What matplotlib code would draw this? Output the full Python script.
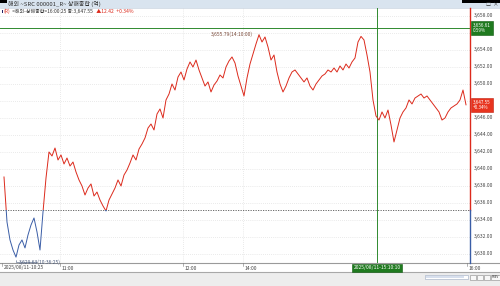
import matplotlib
matplotlib.use("Agg")
import matplotlib.pyplot as plt
import matplotlib.patches as mpatches
import matplotlib.transforms as mtransforms
import numpy as np

plt.rcParams['font.family'] = ['Noto Sans CJK KR', 'DejaVu Sans']

# ---------------- data ----------------
prices = [
    3639.06, 3633.76, 3631.65, 3630.47, 3629.63, 3631.06, 3631.65, 3630.71, 3632.24, 3633.41,
    3634.24, 3632.59, 3630.47, 3634.94, 3638.94, 3642.00, 3641.53, 3642.47, 3641.06, 3641.65,
    3640.59, 3641.29, 3640.35, 3640.82, 3639.65, 3638.71, 3638.00, 3636.94, 3637.76, 3638.24,
    3636.82, 3637.29, 3636.35, 3635.65, 3635.06, 3636.35, 3637.06, 3637.76, 3638.71, 3638.00,
    3639.29, 3639.88, 3640.71, 3641.65, 3641.06, 3642.35, 3642.94, 3643.65, 3644.82, 3645.29,
    3644.59, 3646.47, 3647.06, 3646.00, 3648.12, 3648.82, 3650.00, 3649.29, 3650.82, 3651.41,
    3650.47, 3651.76, 3652.59, 3652.00, 3652.82, 3651.65, 3650.71, 3649.76, 3650.24, 3649.06,
    3649.88, 3650.35, 3651.06, 3650.71, 3652.00, 3652.71, 3653.18, 3652.47, 3650.94, 3649.76,
    3648.59, 3650.71, 3652.35, 3653.53, 3654.71, 3655.79, 3654.94, 3655.53, 3654.35, 3652.82,
    3653.41, 3651.41, 3650.00, 3649.06, 3649.76, 3650.71, 3651.41, 3651.65, 3651.18, 3650.71,
    3650.24, 3650.71, 3649.76, 3649.29, 3650.00, 3650.47, 3650.94, 3651.18, 3651.65, 3651.41,
    3651.88, 3651.41, 3652.12, 3651.65, 3652.35, 3651.88, 3652.59, 3653.06, 3654.94, 3655.60,
    3655.18, 3653.41, 3651.41, 3648.12, 3646.24, 3645.76, 3646.71, 3646.00, 3646.94, 3645.18,
    3643.18, 3644.59, 3646.00, 3646.71, 3647.18, 3648.12, 3647.65, 3648.35, 3648.59, 3648.82,
    3648.35, 3648.59, 3648.12, 3647.65, 3647.18, 3646.71, 3645.76, 3646.00, 3646.71, 3647.18,
    3647.41, 3647.65, 3648.12, 3649.29, 3647.55,
]
prev_close = 3635.13
last_price = 3647.55
change = 12.42
change_pct = 0.34
high_val, high_time, high_idx = 3655.79, "14:10:00", 85
low_val, low_time, low_idx = 3629.63, "10:36:25", 4
cursor_val, cursor_pct = 3656.61, 0.59
cursor_label = "2025/08/11-15:10:10"
cursor_idx = 124.3
tick_labels = ["2025/08/11-10:25", "11:00", "12:00", "14:00", "16:00"]
tick_pos = [-0.7, 18.7, 59.7, 79.7, 154.3]
y_ticks = list(range(3630, 3659, 2))

RED = "#dc2a1c"
BLUE = "#3a5da6"
GREEN = "#2f8a2f"
GRID = "#d6d6d6"
TXT = "#444444"

W, H = 500, 286
fig = plt.figure(figsize=(W / 100, H / 100), dpi=100)
fig.patch.set_facecolor("white")

# overlay for chrome (pixel coordinates)
ov = fig.add_axes([0, 0, 1, 1], zorder=0)
ov.set_xlim(0, W)
ov.set_ylim(H, 0)
ov.axis("off")

# main axes
L, R, T, B = 0, 470, 8, 263
ax = fig.add_axes([L / W, 1 - B / H, (R - L) / W, (B - T) / H], zorder=1)
ax.patch.set_alpha(0)
x = np.arange(len(prices))
xmin, xmax = -4 / 3, (R - 4) / 3
ymin, ymax = 3628.94, 3658.94
ax.set_xlim(xmin, xmax)
ax.set_ylim(ymin, ymax)
for s in ax.spines.values():
    s.set_visible(False)
ax.set_xticks([])
ax.set_yticks([])

# grid
for v in y_ticks:
    ax.axhline(v, color=GRID, lw=0.5, ls=(0, (1, 2)), zorder=0)
for p in tick_pos[1:4]:
    ax.axvline(p, color=GRID, lw=0.5, ls=(0, (1, 2)), zorder=0)

# previous close line
ax.axhline(prev_close, color="#555555", lw=0.6, ls=(0, (1.5, 1.5)), zorder=1)

# price line split red/blue around prev close
lr, = ax.plot(x, prices, color=RED, lw=0.7, zorder=3)
lb, = ax.plot(x, prices, color=BLUE, lw=0.7, zorder=3)
clip_up = mpatches.Rectangle((xmin, prev_close), xmax - xmin, ymax - prev_close,
                             transform=ax.transData, visible=False)
clip_dn = mpatches.Rectangle((xmin, ymin), xmax - xmin, prev_close - ymin,
                             transform=ax.transData, visible=False)
ax.add_patch(clip_up)
ax.add_patch(clip_dn)
lr.set_clip_path(clip_up)
lb.set_clip_path(clip_dn)

# right edge line
ax.plot([xmax, xmax], [prev_close, ymax], color=RED, lw=1.0, clip_on=False, zorder=4)
ax.plot([xmax, xmax], [ymin, prev_close], color=BLUE, lw=1.0, clip_on=False, zorder=4)

# cursor lines
ax.axhline(cursor_val, color=GREEN, lw=0.7, zorder=2)
ax.axvline(cursor_idx, color=GREEN, lw=0.7, zorder=2)

# high / low annotations
ax.annotate(f"{high_val:,.2f}({high_time})", xy=(high_idx, high_val),
            xytext=(-4, 0), textcoords="offset points", ha="right", va="center",
            fontsize=3.6, color="#7a4a3a",
            arrowprops=dict(arrowstyle="-", color="#7a4a3a", lw=0.4))
ax.annotate(f"{low_val:,.2f}({low_time})", xy=(low_idx, low_val),
            xytext=(2, -3.5), textcoords="offset points", ha="left", va="center",
            fontsize=3.6, color="#4a5a7a",
            arrowprops=dict(arrowstyle="-", color="#4a5a7a", lw=0.4,
                            connectionstyle="angle,angleA=0,angleB=90,rad=0"))

# y tick labels (those hidden under the value boxes are skipped)
ytr = mtransforms.blended_transform_factory(ax.transAxes, ax.transData)
for v in y_ticks:
    if abs(v - cursor_val) < 1.2 or abs(v - last_price) < 1.2:
        continue
    ax.text(1 + 4 / (R - L), v, f"{v:,.2f}", transform=ytr, fontsize=3.6,
            color=TXT, ha="left", va="center", clip_on=False)

# x axis
ov.plot([0, W], [B, B], color="#9a9a9a", lw=0.8)
xtr = mtransforms.blended_transform_factory(ax.transData, ax.transAxes)
for p, lab in zip(tick_pos, tick_labels):
    ax.plot([p, p], [0, -3 / (B - T)], transform=xtr, color="#777777", lw=0.4, clip_on=False)
    if abs(p - cursor_idx) < 15:
        continue
    ax.text(p + 0.5, -5 / (B - T), lab, transform=xtr, fontsize=3.6, color=TXT,
            ha="left", va="center", clip_on=False)

# cursor label boxes
ax.text(cursor_idx, -5 / (B - T), cursor_label, transform=xtr, fontsize=3.6, color="white",
        ha="center", va="center", clip_on=False, zorder=6,
        bbox=dict(boxstyle="square,pad=0.35", fc="#1f7a1f", ec="#0f5a0f", lw=0.4))
ax.text(1 + 3 / (R - L), cursor_val, f"{cursor_val:,.2f}\n{cursor_pct:.2f}%", transform=ytr,
        fontsize=3.3, color="white", ha="left", va="center", clip_on=False, zorder=6,
        linespacing=1.0,
        bbox=dict(boxstyle="square,pad=0.45", fc="#1f7a1f", ec="#0f5a0f", lw=0.4))
ax.text(1 + 3 / (R - L), last_price, f"{last_price:,.2f}\n+{change_pct:.2f}%", transform=ytr,
        fontsize=3.3, color="white", ha="left", va="center", clip_on=False, zorder=6,
        linespacing=1.0,
        bbox=dict(boxstyle="square,pad=0.45", fc="#e8341f", ec="#c02010", lw=0.4))

# header
ov.add_patch(mpatches.Rectangle((0, 0), W, 7.5, fc="#d9e4ef", ec="none"))
ov.plot([0, W], [7.5, 7.5], color="#b8c6d6", lw=0.4)
ov.add_patch(mpatches.Rectangle((0, 0), 7, 3, fc="black", ec="none"))
ov.add_patch(mpatches.Rectangle((462, 0), 38, 3, fc="black", ec="none"))
ov.text(8, 4.4, "해외 ~SRC 000001_R~ 상해종합 (억)", fontsize=4.3, color="#333333",
        ha="left", va="center")
ov.text(488, 5, "□", fontsize=3.6, color="#333333", ha="center", va="center")
ov.text(495, 5, "×", fontsize=4, color="#333333", ha="center", va="center")
ov.add_patch(mpatches.Rectangle((1.5, 9.5), 1.2, 3.5, fc="#222266", ec="none"))

renderer = fig.canvas.get_renderer()
inv = ov.transData.inverted()
pieces = [("(R)", RED), (f" <해외-상해종합>16:00:25 종:{last_price:,.2f}", "#333333"),
          (f"  ▲{change:.2f}", RED), (f"  +{change_pct:.2f}%", RED)]
cx = 4.0
for s, c in pieces:
    t = ov.text(cx, 11.3, s, fontsize=3.6, color=c, ha="left", va="center")
    bb = t.get_window_extent(renderer=renderer)
    cx = inv.transform((bb.x1, bb.y0))[0] + 0.5

# bottom scroll bar area
ov.add_patch(mpatches.Rectangle((0, 272), W, 14, fc="#ededed", ec="none"))
ov.plot([0, W], [272, 272], color="#a8a8a8", lw=0.8)
ov.add_patch(mpatches.Rectangle((425, 275), 43, 4, fc="white", ec="#9aa8c0", lw=0.4))
ov.add_patch(mpatches.Rectangle((426, 276), 38, 2, fc="#d8e0ee", ec="none"))
for bx in (470, 477, 484):
    ov.add_patch(mpatches.Rectangle((bx, 274.5), 6, 5.5, fc="#f8f8f8", ec="#888888", lw=0.4))
ov.add_patch(mpatches.Rectangle((491, 274.5), 9, 5.5, fc="#f8f8f8", ec="#888888", lw=0.4))
ov.text(495.5, 277.3, "PREV", fontsize=2.2, color="#333333", ha="center", va="center")

fig.savefig("out.png", dpi=100, facecolor="white")
